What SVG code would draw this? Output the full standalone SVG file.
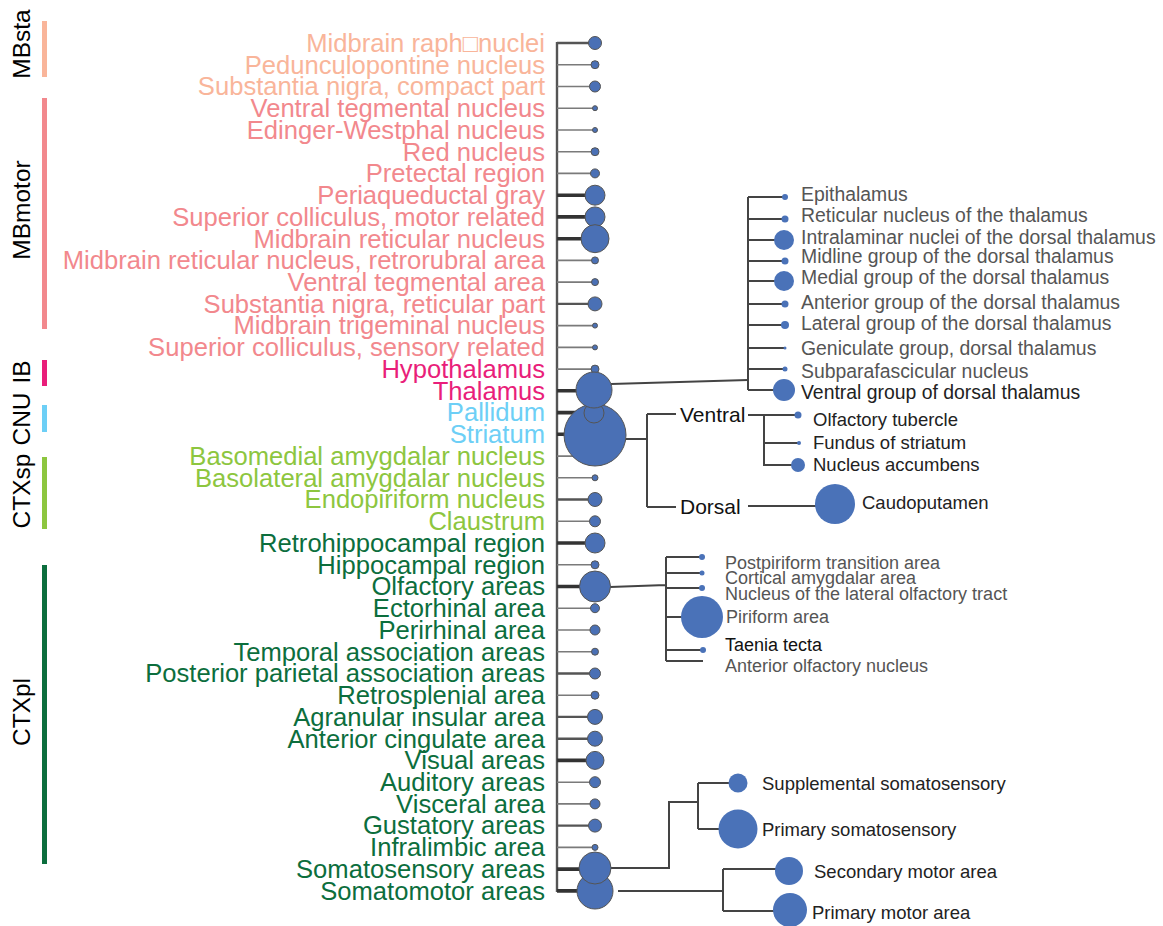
<svg xmlns="http://www.w3.org/2000/svg" width="1163" height="926" viewBox="0 0 1163 926">
<style>
text{font-family:"Liberation Sans",Arial,sans-serif}
.L{font-size:25.6px;text-anchor:end}
.cat{font-size:24.5px;fill:#000;text-anchor:middle}
.a{fill:#F9B59A}.b{fill:#F2888D}.c{fill:#E91E7A}.d{fill:#6DCFF6}.e{fill:#8DC63F}.f{fill:#0C6E3D}
.s1{stroke:#7a7a7a;stroke-width:1.6;fill:none}
.s2{stroke:#555;stroke-width:2.4;fill:none}
.s3{stroke:#333;stroke-width:3.6;fill:none}
.t{stroke:#444;stroke-width:2;fill:none}
.p{fill:#4A70B5;stroke:#555;stroke-width:1}
.q{fill:#4A72B8}
.R{font-size:19.4px;fill:#555}
.O{font-size:18px;fill:#555}
.K{font-size:18.5px;fill:#222}
.V{font-size:21px;fill:#111}
</style>
<g id="categories">
<rect x="42" y="21" width="5" height="56" fill="#F9B59A"/>
<rect x="42" y="98" width="5" height="231" fill="#F2888D"/>
<rect x="42" y="360" width="5" height="26" fill="#E91E7A"/>
<rect x="42" y="405" width="5" height="27" fill="#6DCFF6"/>
<rect x="42" y="457" width="5" height="72" fill="#8DC63F"/>
<rect x="42" y="565" width="5" height="299" fill="#0C6E3D"/>
<text class="cat" transform="translate(30,44) rotate(-90)">MBsta</text>
<text class="cat" transform="translate(30,210) rotate(-90)">MBmotor</text>
<text class="cat" transform="translate(30,372) rotate(-90)">IB</text>
<text class="cat" transform="translate(30,419) rotate(-90)">CNU</text>
<text class="cat" transform="translate(30,491) rotate(-90)">CTXsp</text>
<text class="cat" transform="translate(30,712) rotate(-90)">CTXpl</text>
</g>
<g id="connectors">
<path class="s2" d="M557 42V892"/>
<path class="s2" d="M557 43H595"/>
<path class="s1" d="M557 64.7H595"/>
<path class="s1" d="M557 86.5H595"/>
<path class="s1" d="M557 108.2H595"/>
<path class="s1" d="M557 130H595"/>
<path class="s1" d="M557 151.7H595"/>
<path class="s1" d="M557 173.4H595"/>
<path class="s3" d="M557 195.2H595"/>
<path class="s3" d="M557 216.9H595"/>
<path class="s3" d="M557 238.7H595"/>
<path class="s1" d="M557 260.4H595"/>
<path class="s1" d="M557 282.1H595"/>
<path class="s2" d="M557 303.9H595"/>
<path class="s1" d="M557 325.6H595"/>
<path class="s1" d="M557 347.4H595"/>
<path class="s1" d="M557 369.1H595"/>
<path class="s3" d="M557 390.8H595"/>
<path class="s3" d="M557 412.6H595"/>
<path class="s3" d="M557 434.3H595"/>
<path class="s1" d="M557 456.1H595"/>
<path class="s1" d="M557 477.8H595"/>
<path class="s2" d="M557 499.5H595"/>
<path class="s1" d="M557 521.3H595"/>
<path class="s3" d="M557 543H595"/>
<path class="s1" d="M557 564.8H595"/>
<path class="s3" d="M557 586.5H595"/>
<path class="s1" d="M557 608.2H595"/>
<path class="s1" d="M557 630H595"/>
<path class="s1" d="M557 651.7H595"/>
<path class="s2" d="M557 673.5H595"/>
<path class="s1" d="M557 695.2H595"/>
<path class="s2" d="M557 716.9H595"/>
<path class="s2" d="M557 738.7H595"/>
<path class="s3" d="M557 760.4H595"/>
<path class="s1" d="M557 782.2H595"/>
<path class="s1" d="M557 803.9H595"/>
<path class="s2" d="M557 825.6H595"/>
<path class="s1" d="M557 847.4H595"/>
<path class="s3" d="M557 869.1H595"/>
<path class="s3" d="M557 890.9H595"/>
<!-- thalamus subtree -->
<path class="t" d="M611 384L748 380"/>
<path class="t" d="M748 197V390M748 197H785M748 219H785M748 240H785M748 261H785M748 281H785M748 304H785M748 325H785M748 348H785M748 369H785M748 390H785"/>
<!-- striatum subtree -->
<path class="t" d="M626 439H647M647 414V507M647 414H676M647 507H676M748 415H798M764 415V465H797M764 443H799M748 506H818"/>
<!-- olfactory subtree -->
<path class="t" d="M610 587L666 585M666 557V661M666 557H702M666 573H702M666 588H702M666 617H690M666 650H703M666 661H703"/>
<!-- somatosensory / somatomotor subtrees -->
<path class="t" d="M611 868H669V802H698M698 783V829M698 783H738M698 829H725"/>
<path class="t" d="M618 891H723M723 869V911M723 869H789M723 911H789"/>
</g>
<g id="n-mrn-raphe"><circle class="p" cx="595" cy="43" r="6.5"/><text class="L a" x="545" y="51.8">Midbrain raph□nuclei</text></g>
<g id="n-ppn"><circle class="p" cx="595" cy="64.7" r="4"/><text class="L a" x="545" y="73.5">Pedunculopontine nucleus</text></g>
<g id="n-snc"><circle class="p" cx="595" cy="86.5" r="5.5"/><text class="L a" x="545" y="95.3">Substantia nigra, compact part</text></g>
<g id="n-vtn"><circle class="p" cx="595" cy="108.2" r="2.5"/><text class="L b" x="545" y="117">Ventral tegmental nucleus</text></g>
<g id="n-ew"><circle class="p" cx="595" cy="130" r="2.5"/><text class="L b" x="545" y="138.8">Edinger-Westphal nucleus</text></g>
<g id="n-red"><circle class="p" cx="595" cy="151.7" r="4"/><text class="L b" x="545" y="160.5">Red nucleus</text></g>
<g id="n-prt"><circle class="p" cx="595" cy="173.4" r="4.5"/><text class="L b" x="545" y="182.2">Pretectal region</text></g>
<g id="n-pag"><circle class="p" cx="595" cy="195.2" r="10"/><text class="L b" x="545" y="204">Periaqueductal gray</text></g>
<g id="n-scm"><circle class="p" cx="595" cy="216.9" r="10"/><text class="L b" x="545" y="225.7">Superior colliculus, motor related</text></g>
<g id="n-mrn"><circle class="p" cx="595" cy="238.7" r="14"/><text class="L b" x="545" y="247.5">Midbrain reticular nucleus</text></g>
<g id="n-rr"><circle class="p" cx="595" cy="260.4" r="3.5"/><text class="L b" x="545" y="269.2">Midbrain reticular nucleus, retrorubral area</text></g>
<g id="n-vta"><circle class="p" cx="595" cy="282.1" r="3.5"/><text class="L b" x="545" y="290.9">Ventral tegmental area</text></g>
<g id="n-snr"><circle class="p" cx="595" cy="303.9" r="7"/><text class="L b" x="545" y="312.7">Substantia nigra, reticular part</text></g>
<g id="n-mev"><circle class="p" cx="595" cy="325.6" r="2.5"/><text class="L b" x="545" y="334.4">Midbrain trigeminal nucleus</text></g>
<g id="n-scs"><circle class="p" cx="595" cy="347.4" r="2.5"/><text class="L b" x="545" y="356.2">Superior colliculus, sensory related</text></g>
<g id="n-hy"><circle class="p" cx="595" cy="369.1" r="4"/><text class="L c" x="545" y="377.9">Hypothalamus</text></g>
<g id="n-bma"><circle class="p" cx="595" cy="456.1" r="3"/><text class="L e" x="545" y="464.9">Basomedial amygdalar nucleus</text></g>
<g id="n-str"><circle class="p" cx="595" cy="435" r="31"/><text class="L d" x="545" y="443.1">Striatum</text></g>
<g id="n-pal"><circle class="p" cx="594" cy="413" r="10"/><text class="L d" x="545" y="421.4">Pallidum</text></g>
<g id="n-th"><circle class="p" cx="594" cy="390" r="18"/><text class="L c" x="545" y="399.6">Thalamus</text></g>
<g id="n-bla"><circle class="p" cx="595" cy="477.8" r="3"/><text class="L e" x="545" y="486.6">Basolateral amygdalar nucleus</text></g>
<g id="n-ep"><circle class="p" cx="595" cy="499.5" r="7"/><text class="L e" x="545" y="508.3">Endopiriform nucleus</text></g>
<g id="n-cla"><circle class="p" cx="595" cy="521.3" r="5.5"/><text class="L e" x="545" y="530.1">Claustrum</text></g>
<g id="n-rhp"><circle class="p" cx="595" cy="543" r="10"/><text class="L f" x="545" y="551.8">Retrohippocampal region</text></g>
<g id="n-hip"><circle class="p" cx="595" cy="564.8" r="4"/><text class="L f" x="545" y="573.6">Hippocampal region</text></g>
<g id="n-olf"><circle class="p" cx="595" cy="586.5" r="15.5"/><text class="L f" x="545" y="595.3">Olfactory areas</text></g>
<g id="n-ect"><circle class="p" cx="595" cy="608.2" r="4.5"/><text class="L f" x="545" y="617">Ectorhinal area</text></g>
<g id="n-peri"><circle class="p" cx="595" cy="630" r="5"/><text class="L f" x="545" y="638.8">Perirhinal area</text></g>
<g id="n-tea"><circle class="p" cx="595" cy="651.7" r="3.5"/><text class="L f" x="545" y="660.5">Temporal association areas</text></g>
<g id="n-ptl"><circle class="p" cx="595" cy="673.5" r="5.5"/><text class="L f" x="545" y="682.3">Posterior parietal association areas</text></g>
<g id="n-rsp"><circle class="p" cx="595" cy="695.2" r="4"/><text class="L f" x="545" y="704">Retrosplenial area</text></g>
<g id="n-ai"><circle class="p" cx="595" cy="716.9" r="7.5"/><text class="L f" x="545" y="725.7">Agranular insular area</text></g>
<g id="n-aca"><circle class="p" cx="595" cy="738.7" r="7.5"/><text class="L f" x="545" y="747.5">Anterior cingulate area</text></g>
<g id="n-vis"><circle class="p" cx="595" cy="760.4" r="9"/><text class="L f" x="545" y="769.2">Visual areas</text></g>
<g id="n-aud"><circle class="p" cx="595" cy="782.2" r="5.5"/><text class="L f" x="545" y="791">Auditory areas</text></g>
<g id="n-visc"><circle class="p" cx="595" cy="803.9" r="5"/><text class="L f" x="545" y="812.7">Visceral area</text></g>
<g id="n-gu"><circle class="p" cx="595" cy="825.6" r="6.5"/><text class="L f" x="545" y="834.4">Gustatory areas</text></g>
<g id="n-ila"><circle class="p" cx="595" cy="847.4" r="3"/><text class="L f" x="545" y="856.2">Infralimbic area</text></g>
<g id="n-mo"><circle class="p" cx="595" cy="891" r="18"/><text class="L f" x="545" y="899.7">Somatomotor areas</text></g>
<g id="n-ss"><circle class="p" cx="595" cy="868" r="16"/><text class="L f" x="545" y="877.9">Somatosensory areas</text></g>
<!-- thalamus children -->
<g id="n-epi"><circle class="q" cx="785" cy="197" r="3"/><text class="R" x="801" y="200.7">Epithalamus</text></g>
<g id="n-rt"><circle class="q" cx="785" cy="219" r="3.5"/><text class="R" x="801" y="221.7">Reticular nucleus of the thalamus</text></g>
<g id="n-ilm"><circle class="q" cx="784" cy="240" r="10"/><text class="R" x="801" y="243.7">Intralaminar nuclei of the dorsal thalamus</text></g>
<g id="n-mtn"><circle class="q" cx="785" cy="261" r="3.5"/><text class="R" x="801" y="262.7">Midline group of the dorsal thalamus</text></g>
<g id="n-med"><circle class="q" cx="784" cy="281" r="10"/><text class="R" x="801" y="283.7">Medial group of the dorsal thalamus</text></g>
<g id="n-atn"><circle class="q" cx="785" cy="304" r="3.5"/><text class="R" x="801" y="308.7">Anterior group of the dorsal thalamus</text></g>
<g id="n-lat"><circle class="q" cx="785" cy="325" r="4"/><text class="R" x="801" y="329.7">Lateral group of the dorsal thalamus</text></g>
<g id="n-gen"><circle class="q" cx="785" cy="348" r="1.5"/><text class="R" x="801" y="354.7">Geniculate group, dorsal thalamus</text></g>
<g id="n-spf"><circle class="q" cx="785" cy="369" r="2.5"/><text class="R" x="801" y="377.7">Subparafascicular nucleus</text></g>
<g id="n-vent"><circle class="q" cx="784" cy="390" r="11"/><text class="R" x="801" y="398.7" style="fill:#222">Ventral group of dorsal thalamus</text></g>
<!-- striatum children -->
<g id="n-ventral"><text class="V" x="680" y="421.5">Ventral</text></g>
<g id="n-dorsal"><text class="V" x="680" y="514">Dorsal</text></g>
<g id="n-ot"><circle class="q" cx="798" cy="415" r="3.5"/><text class="K" x="813" y="426">Olfactory tubercle</text></g>
<g id="n-fs"><circle class="q" cx="799" cy="443" r="2"/><text class="K" x="813" y="448.5">Fundus of striatum</text></g>
<g id="n-acb"><circle class="q" cx="798" cy="465" r="7"/><text class="K" x="813" y="470.5">Nucleus accumbens</text></g>
<g id="n-cp"><circle class="q" cx="835" cy="504" r="20"/><text class="K" x="862" y="508.5">Caudoputamen</text></g>
<!-- olfactory children -->
<g id="n-tr"><circle class="q" cx="702" cy="557" r="3"/><text class="O" x="725" y="568.5">Postpiriform transition area</text></g>
<g id="n-coa"><circle class="q" cx="702" cy="573" r="2.5"/><text class="O" x="725" y="583.5">Cortical amygdalar area</text></g>
<g id="n-nlot"><circle class="q" cx="702" cy="588" r="3"/><text class="O" x="725" y="599.5">Nucleus of the lateral olfactory tract</text></g>
<g id="n-pir"><circle class="q" cx="702" cy="617" r="21"/><text class="O" x="726" y="622.5">Piriform area</text></g>
<g id="n-tt"><circle class="q" cx="703" cy="650" r="3"/><text class="O" x="725" y="650.5" style="fill:#111">Taenia tecta</text></g>
<g id="n-aon"><text class="O" x="725" y="671.5">Anterior olfactory nucleus</text></g>
<!-- somatosensory / somatomotor children -->
<g id="n-sss"><circle class="q" cx="738" cy="783" r="9.5"/><text class="K" x="762" y="789.5">Supplemental somatosensory</text></g>
<g id="n-ssp"><circle class="q" cx="738" cy="829" r="19.5"/><text class="K" x="762" y="835.5">Primary somatosensory</text></g>
<g id="n-mos"><circle class="q" cx="789" cy="871" r="14"/><text class="K" x="814" y="877.5">Secondary motor area</text></g>
<g id="n-mop"><circle class="q" cx="790" cy="910" r="17"/><text class="K" x="812" y="918.5">Primary motor area</text></g>
</svg>
